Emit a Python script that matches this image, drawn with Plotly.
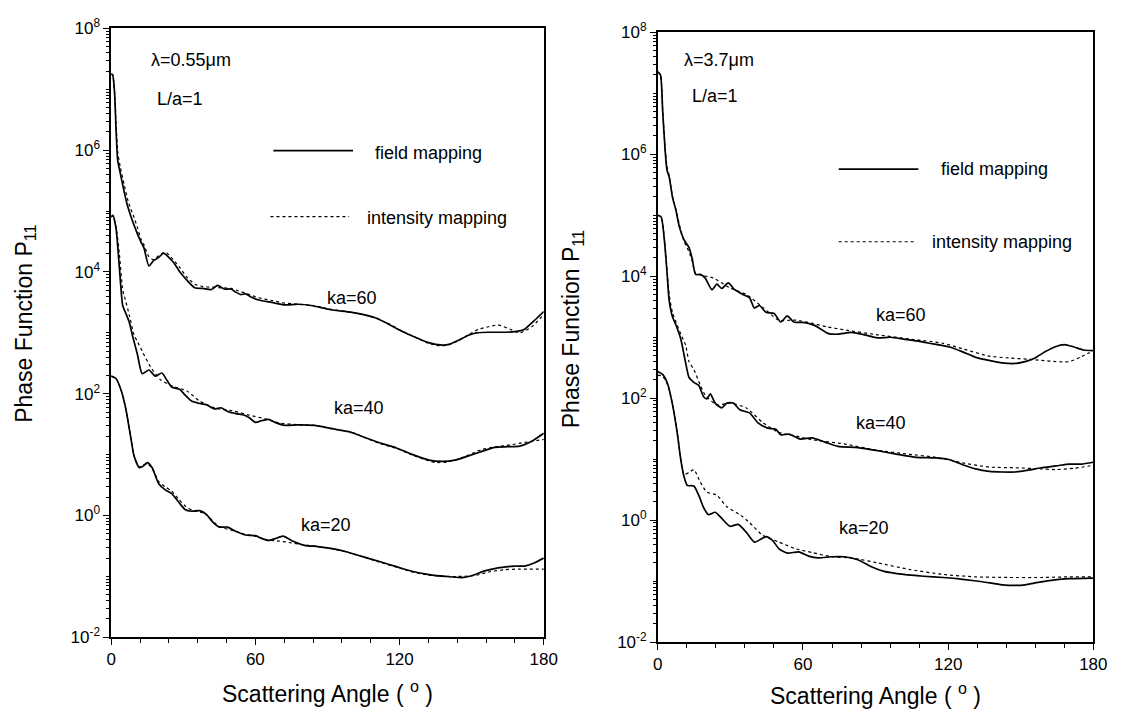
import numpy as np
import plotly.graph_objects as go

# ---------------- data (P11 values stored as log10) ----------------
# Left panel: lambda = 0.55 um
L60_field_x = [0, 0.6, 1.4, 2, 2.7, 3.8, 5.5, 6.8, 9.5, 12.3, 13.6, 15.7, 17.7, 19.8, 21.8, 23.2, 25.9, 28.6, 31.4, 34.8,
               38.2, 41.6, 44.3, 47, 49.8, 51.8, 53.9, 55.9, 58.7, 61.4, 66.8, 72.3, 77.7, 83.2, 91.4, 99.6, 105, 110.5,
               116, 121.4, 127, 132, 137.8, 140.5, 144.6, 148.7, 152, 157, 162, 168, 172, 176, 180]
L60_field_lg = [7.25, 7.24, 6.95, 6.37, 5.84, 5.62, 5.3, 5.09, 4.77, 4.5, 4.4, 4.1, 4.19, 4.24, 4.31, 4.27, 4.16, 4.0, 3.87,
                3.74, 3.73, 3.71, 3.78, 3.72, 3.72, 3.67, 3.63, 3.64, 3.58, 3.54, 3.5, 3.46, 3.47, 3.45, 3.38, 3.34, 3.30,
                3.24, 3.13, 3.02, 2.92, 2.84, 2.8, 2.81, 2.88, 2.96, 3.0, 3.01, 3.01, 3.02, 3.06, 3.2, 3.35]
L60_int_x = [0, 0.6, 1.4, 2, 2.7, 3.8, 5.5, 6.8, 8, 9.5, 11, 12.3, 13.6, 15.7, 17.7, 19.8, 21.8, 23.2, 25.9, 28.6, 31.4,
             34.8, 38.2, 42, 46, 50, 53, 56, 61, 67, 72, 78, 84, 91, 100, 105, 110, 116, 121, 127, 132, 136, 140, 144,
             148.7, 153, 157, 161, 166, 170, 175, 180]
L60_int_lg = [7.25, 7.24, 6.97, 6.45, 5.98, 5.72, 5.42, 5.2, 5.05, 4.9, 4.72, 4.55, 4.45, 4.25, 4.2, 4.27, 4.32, 4.31, 4.2,
              4.07, 3.92, 3.8, 3.76, 3.75, 3.74, 3.73, 3.69, 3.65, 3.58, 3.53, 3.49, 3.47, 3.45, 3.39, 3.34, 3.3, 3.24,
              3.14, 3.03, 2.92, 2.83, 2.79, 2.8, 2.86, 2.97, 3.06, 3.1, 3.13, 3.06, 3.0, 3.1, 3.3]
L40_field_x = [0, 0.7, 2, 3.4, 4.8, 6.1, 7.5, 8.9, 10.9, 12.9, 15.7, 18.4, 21.1, 23.2, 25.2, 28.6, 30.7, 33.4, 36.8, 39.6,
               42.9, 45.7, 49, 52.5, 55.2, 57.3, 60, 62.8, 65.5, 68.2, 72.3, 77.7, 84.6, 91.4, 99.6, 105, 112, 118.7,
               125.5, 132.3, 137.8, 143, 148.7, 154, 159.6, 165, 170, 175, 180]
L40_field_lg = [4.91, 4.93, 4.72, 4.08, 3.45, 3.32, 3.18, 2.95, 2.65, 2.33, 2.39, 2.29, 2.34, 2.22, 2.11, 2.07, 1.98, 1.88,
                1.84, 1.82, 1.75, 1.77, 1.7, 1.67, 1.65, 1.61, 1.53, 1.56, 1.58, 1.53, 1.48, 1.49, 1.48, 1.43, 1.37, 1.29,
                1.19, 1.11, 1.0, 0.91, 0.89, 0.91, 0.98, 1.05, 1.12, 1.13, 1.14, 1.22, 1.35]
L40_int_x = [0, 0.7, 2, 3.4, 4.8, 5.5, 7.5, 9.5, 11, 12.9, 16.4, 20.5, 25.9, 31.4, 36.8, 43.7, 50.5, 57.3, 64, 70, 78, 85,
             91, 100, 105, 112, 119, 125.5, 132, 135, 140, 146, 154, 160, 166, 172, 180]
L40_int_lg = [4.9, 4.92, 4.75, 4.3, 3.7, 3.6, 3.3, 2.97, 2.85, 2.7, 2.44, 2.23, 2.12, 2.05, 1.88, 1.76, 1.72, 1.65, 1.59,
              1.52, 1.49, 1.48, 1.43, 1.37, 1.29, 1.18, 1.1, 0.99, 0.9, 0.87, 0.88, 0.95, 1.08, 1.13, 1.16, 1.2, 1.25]
L20_field_x = [0, 2, 4.1, 6.1, 8.2, 9.5, 11.6, 12.9, 15, 17, 19.8, 22.5, 25.2, 27.9, 30.7, 33.4, 36.8, 39.6, 42.3, 45,
               48.4, 51.8, 55.9, 60, 62.8, 65.5, 68.2, 71.6, 75, 80.5, 86, 91.4, 98.2, 105, 112, 118.7, 125.5, 132.3,
               139, 146, 150, 155.4, 161, 167.8, 172, 176, 180]
L20_field_lg = [2.29, 2.25, 2.06, 1.75, 1.27, 0.98, 0.79, 0.8, 0.87, 0.79, 0.52, 0.42, 0.36, 0.23, 0.1, 0.07, 0.08, 0.02,
                -0.11, -0.19, -0.19, -0.26, -0.32, -0.33, -0.38, -0.41, -0.38, -0.34, -0.41, -0.49, -0.51, -0.54, -0.6,
                -0.68, -0.76, -0.84, -0.92, -0.97, -1.0, -1.02, -0.99, -0.91, -0.86, -0.83, -0.83, -0.78, -0.7]
L20_int_x = [0, 2, 4.1, 6.1, 8.2, 9.5, 11.6, 13, 15, 17, 19.8, 22.5, 25.2, 28, 31, 34, 37, 40, 43, 46, 50, 55, 60, 65,
             70, 75, 80, 86, 91, 98, 105, 112, 119, 125.5, 132, 139, 146, 152, 158, 164, 170, 180]
L20_int_lg = [2.29, 2.25, 2.06, 1.75, 1.27, 0.98, 0.8, 0.82, 0.85, 0.78, 0.56, 0.47, 0.4, 0.27, 0.15, 0.08, 0.06, 0.0,
              -0.12, -0.2, -0.24, -0.3, -0.34, -0.4, -0.42, -0.45, -0.48, -0.51, -0.54, -0.6, -0.68, -0.77, -0.85,
              -0.93, -0.98, -1.0, -1.0, -0.98, -0.92, -0.89, -0.88, -0.88]

# Right panel: lambda = 3.7 um
R60_field_x = [0, 1.1, 2, 3, 3.8, 4.7, 6.1, 7.5, 8.9, 10.8, 12.9, 14.2, 15.6, 17.6, 19.6, 22.4, 24.4, 26.4, 29.1, 31.8,
               35.2, 37.9, 39.9, 42, 44.7, 48.1, 50.8, 53.5, 56.2, 61, 65, 70.5, 74.5, 80, 85.4, 90.8, 96.2, 101.6, 107,
               113.8, 120.6, 126, 131.4, 136.9, 142.3, 147.7, 151.8, 155.9, 160, 164, 168, 172, 176, 180]
R60_field_lg = [7.35, 7.3, 6.72, 6.08, 5.74, 5.63, 5.29, 5.08, 4.81, 4.6, 4.47, 4.29, 4.03, 4.03, 3.97, 3.78, 3.87, 3.8,
                3.89, 3.78, 3.7, 3.65, 3.48, 3.52, 3.41, 3.39, 3.25, 3.35, 3.25, 3.24, 3.19, 3.06, 3.05, 3.08, 3.04,
                2.99, 3.0, 2.97, 2.94, 2.89, 2.84, 2.76, 2.67, 2.62, 2.58, 2.57, 2.6, 2.66, 2.76, 2.84, 2.88, 2.84,
                2.79, 2.78]
R60_int_x = [0, 1.1, 2, 3, 3.8, 4.7, 6.1, 7.5, 8.9, 10.8, 12.9, 14.2, 15.6, 17.6, 23, 29.8, 36.6, 43.4, 50, 56.9, 63.7,
             70, 77.2, 90.8, 104.3, 118, 126, 137, 145, 153, 158.5, 164.6, 170, 175, 180]
R60_int_lg = [7.35, 7.3, 6.75, 6.12, 5.8, 5.65, 5.3, 5.1, 4.85, 4.58, 4.4, 4.25, 4.05, 4.02, 3.97, 3.81, 3.7, 3.49, 3.28,
              3.28, 3.23, 3.17, 3.12, 3.04, 2.97, 2.9, 2.81, 2.69, 2.66, 2.64, 2.62, 2.6, 2.6, 2.68, 2.78]
R40_field_x = [0, 1.4, 2.7, 3.8, 4.7, 6.1, 7.5, 9.5, 11.5, 12.9, 14.9, 16.9, 19, 20.3, 21.7, 23.7, 26.4, 28.5, 31.2,
               33.9, 37.9, 41.3, 45.4, 48.8, 50.8, 54.2, 58.9, 63.7, 69.1, 74.5, 82.7, 90.8, 99, 107, 115, 120.6, 126,
               131.4, 137, 142.3, 147.7, 153, 158.5, 164.6, 170, 175, 180]
R40_field_lg = [5.0, 4.97, 4.6, 4.07, 3.6, 3.33, 3.2, 2.97, 2.58, 2.34, 2.26, 2.21, 2.02, 1.99, 2.07, 1.92, 1.84, 1.92,
                1.92, 1.81, 1.76, 1.6, 1.51, 1.49, 1.4, 1.41, 1.33, 1.35, 1.28, 1.21, 1.19, 1.14, 1.08, 1.03, 1.02, 0.99,
                0.91, 0.84, 0.8, 0.79, 0.79, 0.82, 0.86, 0.89, 0.92, 0.92, 0.95]
R40_int_x = [0, 1.4, 2.7, 3.8, 4.7, 6.1, 7.5, 9.5, 11.5, 12.9, 14.9, 17.6, 19.6, 24.4, 29.8, 36.6, 43.4, 50, 57, 63.7,
             77, 90, 104, 115, 126, 137, 147.7, 158.5, 164.6, 172, 180]
R40_int_lg = [5.0, 4.97, 4.62, 4.12, 3.7, 3.4, 3.25, 3.05, 2.87, 2.6, 2.47, 2.21, 2.05, 1.89, 1.92, 1.84, 1.6, 1.44, 1.38,
              1.32, 1.25, 1.15, 1.08, 1.03, 0.94, 0.87, 0.86, 0.84, 0.83, 0.85, 0.9]
R20_field_x = [0, 2, 4.1, 6.1, 8.1, 9.5, 10.8, 12.2, 14.9, 16.9, 19, 21, 23.7, 26.4, 29.8, 33.2, 36.6, 40, 42.7, 44.7,
               47.4, 50.1, 53.5, 58.3, 62.3, 66.4, 71.8, 77.2, 82.7, 88, 93.5, 101.6, 109.8, 117.9, 126, 134.1, 142.3,
               147.7, 151.8, 157.2, 164, 170, 180]
R20_field_lg = [2.44, 2.39, 2.23, 1.89, 1.41, 0.99, 0.72, 0.57, 0.56, 0.41, 0.2, 0.09, 0.13, 0.03, -0.1, -0.07, -0.2,
                -0.36, -0.31, -0.27, -0.33, -0.47, -0.54, -0.52, -0.59, -0.62, -0.6, -0.6, -0.65, -0.76, -0.84, -0.89,
                -0.92, -0.94, -0.97, -1.01, -1.06, -1.07, -1.06, -1.02, -0.98, -0.96, -0.95]
R20_int_x = [0, 2, 4.1, 6.1, 8.1, 9.5, 10.8, 12.9, 14.9, 17.6, 20.3, 24.4, 28.5, 33.9, 37.9, 43.4, 50.1, 57, 63.7, 71.8,
             80, 90.8, 104.3, 117.9, 131.4, 145, 158.5, 170, 180]
R20_int_lg = [2.38, 2.36, 2.22, 1.9, 1.42, 1.0, 0.75, 0.78, 0.83, 0.62, 0.46, 0.41, 0.22, 0.09, -0.04, -0.25, -0.36,
              -0.47, -0.53, -0.6, -0.62, -0.7, -0.81, -0.89, -0.93, -0.94, -0.94, -0.93, -0.93]

x_tick_vals = [0, 60, 120, 180]
x_tick_text = ["0", "60", "120", "180"]
y_label_exps = [-2, 0, 2, 4, 6, 8]
y_tick_text = ["10<sup>%d</sup>" % d for d in y_label_exps]

# ---------------- figure ----------------
W, H = 1127, 719
FONT = "Liberation Sans, Arial, Helvetica, sans-serif"


def px(x):
    return x / W


def py(y):
    return 1 - y / H


fig = go.Figure()

SOLID = dict(color="black", width=1.7, shape="spline", smoothing=0.6)
DOT = dict(color="black", width=1.2, dash="dot", shape="spline", smoothing=0.6)

panels = [
    ("x", "y", [(L60_field_x, L60_field_lg, L60_int_x, L60_int_lg),
                (L40_field_x, L40_field_lg, L40_int_x, L40_int_lg),
                (L20_field_x, L20_field_lg, L20_int_x, L20_int_lg)]),
    ("x2", "y2", [(R60_field_x, R60_field_lg, R60_int_x, R60_int_lg),
                  (R40_field_x, R40_field_lg, R40_int_x, R40_int_lg),
                  (R20_field_x, R20_field_lg, R20_int_x, R20_int_lg)]),
]
for xa, ya, series in panels:
    for fx, flg, ix, ilg in series:
        fig.add_trace(go.Scatter(x=ix, y=np.power(10.0, ilg), mode="lines", line=DOT,
                                 xaxis=xa, yaxis=ya, showlegend=False, hoverinfo="skip"))
        fig.add_trace(go.Scatter(x=fx, y=np.power(10.0, flg), mode="lines", line=SOLID,
                                 xaxis=xa, yaxis=ya, showlegend=False, hoverinfo="skip"))

minor_y = [k * 10.0 ** d for d in range(-2, 8) for k in range(2, 10)] + [10.0 ** d for d in (-1, 1, 3, 5, 7)]

xaxis_common = dict(range=[0, 180], tickvals=x_tick_vals, ticktext=x_tick_text, ticks="outside", ticklen=6,
                    tickwidth=1.2, tickcolor="black", showline=True, linecolor="black", linewidth=1.5, mirror=True,
                    showgrid=False, zeroline=False, tickfont=dict(family=FONT, size=17, color="black"),
                    minor=dict(dtick=12, tick0=0, ticks="outside", ticklen=4, tickwidth=1, tickcolor="black",
                               showgrid=False))
yaxis_common = dict(type="log", range=[-2, 8], tickvals=[10.0 ** d for d in y_label_exps], ticktext=y_tick_text,
                    ticks="outside", ticklen=6, tickwidth=1.2, tickcolor="black", showline=True, linecolor="black",
                    linewidth=1.5, mirror=True, showgrid=False, zeroline=False,
                    tickfont=dict(family=FONT, size=17, color="black"),
                    minor=dict(tickmode="array", tickvals=minor_y, ticks="outside", ticklen=3, tickwidth=1,
                               tickcolor="black", showgrid=False))

fig.update_layout(
    width=W, height=H, margin=dict(l=0, r=0, t=0, b=0),
    paper_bgcolor="white", plot_bgcolor="white",
    font=dict(family=FONT, color="black"),
    xaxis=dict(domain=[px(108), px(548)], anchor="y", **xaxis_common),
    yaxis=dict(domain=[py(645), py(17)], anchor="x", **yaxis_common),
    xaxis2=dict(domain=[px(664), px(1107)], anchor="y2", **xaxis_common),
    yaxis2=dict(domain=[py(650), py(21)], anchor="x2", **yaxis_common),
)

ann = []
TITLE = dict(family=FONT, size=23, color="black")
LBL = dict(family=FONT, size=18, color="black")


def text(x, y, s, font=LBL, xanchor="center", angle=0):
    ann.append(dict(x=px(x), y=py(y), xref="paper", yref="paper", text=s, showarrow=False, font=font,
                    xanchor=xanchor, yanchor="middle", textangle=angle))


# axis titles
text(328, 701, "Scattering Angle ( <sup>o</sup> )", TITLE)
text(885, 704, "Scattering Angle ( <sup>o</sup> )", TITLE)
text(20, 322, "Phase Function P<sub>11</sub>", TITLE, angle=-90)
text(578, 327, "Phase Function P<sub>11</sub>", TITLE, angle=-90)

# left panel labels
text(146, 50, "λ=0.55μm", xanchor="left")
text(153, 90, "L/a=1", xanchor="left")
text(374, 145, "field mapping", xanchor="left")
text(366, 212, "intensity mapping", xanchor="left")
text(353, 295, "ka=60")
text(360, 408, "ka=40")
text(326, 529, "ka=20")

# right panel labels
text(689, 50, "λ=3.7μm", xanchor="left")
text(697, 87, "L/a=1", xanchor="left")
text(950, 162, "field mapping", xanchor="left")
text(941, 237, "intensity mapping", xanchor="left")
text(911, 313, "ka=60")
text(891, 424, "ka=40")
text(874, 532, "ka=20")

fig.update_layout(annotations=ann)

# legend sample lines
shapes = []
for x0, x1, y0, dash, w in [(273, 354, 143, "solid", 1.7), (270, 350, 211, "dot", 1.2),
                            (848, 929, 162, "solid", 1.7), (848, 927, 237, "dot", 1.2)]:
    shapes.append(dict(type="line", xref="paper", yref="paper", x0=px(x0), x1=px(x1), y0=py(y0), y1=py(y0),
                       line=dict(color="black", width=w, dash=dash)))
fig.update_layout(shapes=shapes)

fig.write_html("out.html")
